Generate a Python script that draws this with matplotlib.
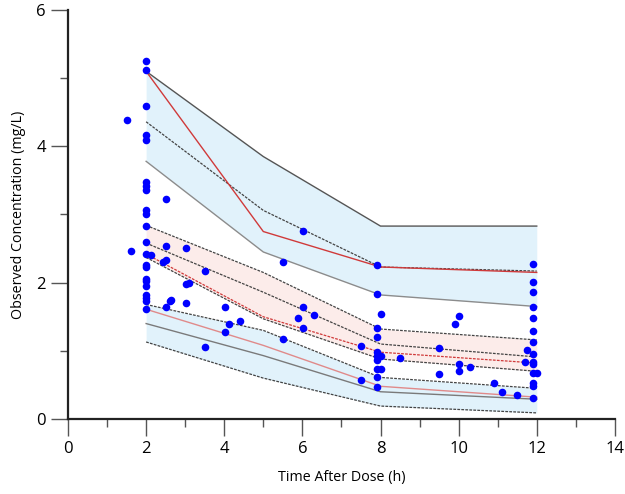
import numpy as np
import matplotlib
matplotlib.use("Agg")
import matplotlib.pyplot as plt
from matplotlib.ticker import MultipleLocator

plt.rcParams['font.family'] = ['Open Sans', 'DejaVu Sans']

# bin times for the prediction intervals
t_bin = [2, 5, 8, 12]

# 95th percentile: CI of simulated + observed
hi_upper = [5.10, 3.85, 2.83, 2.83]
hi_median = [4.36, 3.06, 2.23, 2.17]
hi_lower = [3.78, 2.45, 1.82, 1.65]
hi_obs = [5.10, 2.75, 2.23, 2.15]

# median
mid_upper = [2.84, 2.15, 1.32, 1.16]
mid_median = [2.58, 1.86, 1.10, 0.91]
mid_lower = [2.37, 1.47, 0.88, 0.70]
mid_obs = [2.42, 1.50, 0.98, 0.82]

# 5th percentile
lo_upper = [1.68, 1.30, 0.61, 0.45]
lo_median = [1.40, 0.93, 0.40, 0.29]
lo_lower = [1.13, 0.60, 0.19, 0.09]
lo_obs = [1.61, 1.08, 0.48, 0.32]

# observed concentrations
obs_t = [2, 2, 2, 2, 2, 2, 2, 2, 2, 2, 2, 2, 2, 2, 2, 2, 2, 2, 2, 2, 2, 2,
         1.52, 1.61, 2.12, 2.51, 2.51, 2.44, 2.51, 2.61, 2.51,
         3.01, 3.51, 3.01, 3.10, 2.64, 3.01, 4.01, 4.11, 4.40, 4.01, 3.51,
         5.50, 5.50, 5.89, 6.01, 6.01, 6.01, 6.30,
         7.90, 7.90, 8.0, 7.90, 7.90, 7.50, 7.90, 7.90, 8.0, 7.90, 7.90, 8.0,
         7.90, 7.50, 7.90, 8.5,
         10.0, 9.9, 9.5, 10.0, 10.0, 10.3, 9.5, 10.9, 11.1, 11.5, 11.74, 11.7,
         11.9, 11.9, 11.9, 11.9, 11.9, 11.9, 11.9, 11.9, 11.9, 11.9, 11.9,
         12.0, 11.9, 11.9, 11.9]
obs_c = [5.25, 5.12, 4.59, 4.16, 4.09, 3.48, 3.42, 3.36, 3.07, 3.00, 2.83,
         2.59, 2.42, 2.26, 2.23, 2.06, 2.03, 1.95, 1.82, 1.78, 1.73, 1.61,
         4.39, 2.46, 2.40, 3.22, 2.54, 2.31, 2.33, 1.73, 1.64,
         2.51, 2.17, 1.98, 2.00, 1.74, 1.70, 1.65, 1.39, 1.44, 1.27, 1.06,
         2.30, 1.17, 1.48, 2.76, 1.65, 1.33, 1.53,
         2.26, 1.83, 1.54, 1.33, 1.21, 1.07, 0.98, 0.93, 0.93, 0.87, 0.73, 0.73,
         0.61, 0.57, 0.47, 0.90,
         1.51, 1.39, 1.04, 0.80, 0.71, 0.77, 0.66, 0.53, 0.40, 0.35, 1.01, 0.84,
         2.27, 2.01, 1.87, 1.65, 1.48, 1.29, 1.13, 0.96, 0.84, 0.81, 0.67,
         0.67, 0.53, 0.49, 0.31]

fig = plt.figure(figsize=(6.25, 4.94), dpi=100)
ax = fig.add_axes([0.1088, 0.1518, 0.875, 0.828])

blue_fill = '#e1f2fb'
pink_fill = '#fcecea'
dash = (0, (2.2, 1.0))

ax.fill_between(t_bin, hi_lower, hi_upper, color=blue_fill, lw=0)
ax.fill_between(t_bin, mid_lower, mid_upper, color=pink_fill, lw=0)
ax.fill_between(t_bin, lo_lower, lo_upper, color=blue_fill, lw=0)

ax.plot(t_bin, hi_upper, color='#555555', lw=1.0)
ax.plot(t_bin, hi_median, color='#444444', lw=0.9, linestyle=dash)
ax.plot(t_bin, hi_lower, color='#8c8c8c', lw=1.0)
ax.plot(t_bin, hi_obs, color='#d03a3a', lw=1.0)

ax.plot(t_bin, mid_upper, color='#444444', lw=0.9, linestyle=dash)
ax.plot(t_bin, mid_median, color='#444444', lw=0.9, linestyle=dash)
ax.plot(t_bin, mid_lower, color='#444444', lw=0.9, linestyle=dash)
ax.plot(t_bin, mid_obs, color='#d03a3a', lw=0.9, linestyle=dash)

ax.plot(t_bin, lo_upper, color='#444444', lw=0.9, linestyle=dash)
ax.plot(t_bin, lo_median, color='#7a7a7a', lw=1.0)
ax.plot(t_bin, lo_lower, color='#444444', lw=0.9, linestyle=dash)
ax.plot(t_bin, lo_obs, color='#e08a8a', lw=1.0)

ax.scatter(obs_t, obs_c, s=30, color='#0000ff', zorder=5, linewidths=0)

ax.set_xlim(0, 14)
ax.set_ylim(0, 6)
ax.xaxis.set_major_locator(MultipleLocator(2))
ax.xaxis.set_minor_locator(MultipleLocator(1))
ax.yaxis.set_major_locator(MultipleLocator(2))
ax.yaxis.set_minor_locator(MultipleLocator(1))
ax.tick_params(which='major', direction='out', length=12, width=1.0,
               color='#555555', labelsize=12, pad=4)
ax.tick_params(which='minor', direction='out', length=6, width=1.0,
               color='#555555')
for s in ['top', 'right']:
    ax.spines[s].set_visible(False)
for s in ['left', 'bottom']:
    ax.spines[s].set_linewidth(1.6)
    ax.spines[s].set_color('#222222')

ax.set_xlabel("Time After Dose (h)", fontsize=10.3, labelpad=9)
ax.set_ylabel("Observed Concentration (mg/L)", fontsize=10.3, labelpad=7)

plt.savefig("out.png", dpi=100)
